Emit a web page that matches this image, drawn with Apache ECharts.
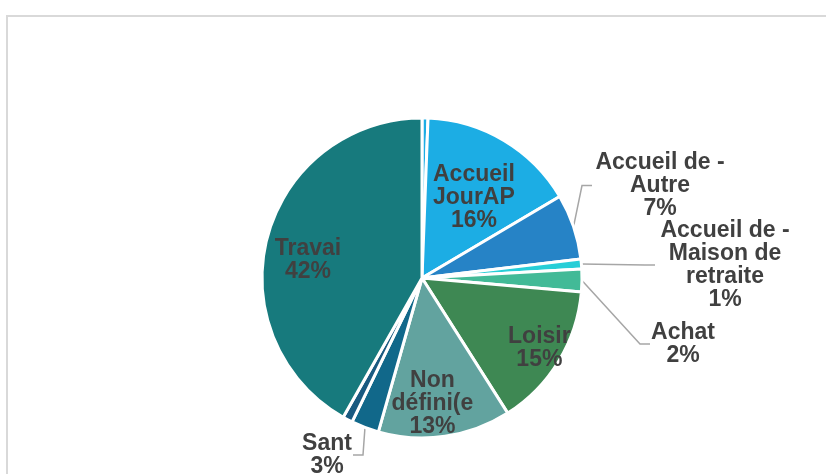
<!DOCTYPE html>
<html>
<head>
<meta charset="utf-8">
<script src="https://cdn.jsdelivr.net/npm/echarts@6/dist/echarts.min.js"></script>
<style>
  html, body { margin: 0; padding: 0; background: #fff; }
  #chart { width: 826px; height: 474px; }
</style>
</head>
<body>
<div id="chart"></div>
<script>
// catégories (dans l'ordre des aiguilles d'une montre, depuis midi)
var categories = ['Accueil de jour', 'Accueil\nJourAP', 'Accueil de -\nAutre', 'Accueil de -\nMaison de\nretraite',
                  'Achat', 'Loisir', 'Non\ndéfini(e', 'Sant', 'Soins', 'Travai'];
// parts (%)
var values = [0.6, 15.9, 6.6, 1.0, 2.3, 14.6, 13.4, 2.8, 1.0, 41.8];
var colors = ['#1cade4', '#1cade4', '#2683c6', '#27ced7', '#42ba97', '#3e8853', '#62a39f', '#11688a', '#1a5a80', '#177a7d'];

// étiquettes dans la part (avec petit décalage) / dehors (position du bloc)
var insideShift = {'Accueil\nJourAP': [-10, 24], 'Loisir': [14, 7], 'Non\ndéfini(e': [-7, 6], 'Travai': [3, 13]};
var outsidePos = {'Accueil de -\nAutre': [592, 151, 'left'], 'Accueil de -\nMaison de\nretraite': [655, 219, 'left'],
                  'Achat': [650, 321, 'left'], 'Sant': [353, 432, 'right']};
var tokenFor = {'Accueil de -\nAutre': 'a', 'Accueil de -\nMaison de\nretraite': 'b', 'Achat': 'c', 'Sant': 'd'};

var FF = 'Liberation Sans, Arial, sans-serif';

function pct(p) { return Math.round(p) + '%'; }

var mainData = categories.map(function (c, i) {
    var out = !!outsidePos[c];
    return {
        name: c, value: values[i],
        itemStyle: { color: colors[i] },
        label: { show: out },
        labelLine: { show: out }
    };
});
var overlayData = categories.map(function (c, i) {
    return { name: c, value: values[i], label: { show: !!insideShift[c] } };
});

var myChart = echarts.init(document.getElementById('chart'), null, { renderer: 'canvas' });

var tok = function (w) {
    return { width: w, align: 'center', fontFamily: FF, fontWeight: 'bold', fontSize: 23, lineHeight: 23, color: '#404040' };
};

var option = {
    animation: false,
    backgroundColor: '#fff',
    graphic: [{
        type: 'rect', silent: true,
        shape: { x: 7, y: 16, width: 840, height: 480 },
        style: { fill: 'none', stroke: '#d9d9d9', lineWidth: 2 }
    }],
    series: [
        {
            type: 'pie',
            center: [422, 278],
            radius: 160,
            startAngle: 90,
            clockwise: true,
            data: mainData,
            itemStyle: { borderColor: '#fff', borderWidth: 3 },
            label: {
                position: 'outside',
                formatter: function (p) {
                    var t = tokenFor[p.name];
                    var lines = p.name.split('\n').concat([pct(p.percent)]);
                    return lines.map(function (l) { return '{' + t + '|' + l + '}'; }).join('\n');
                },
                rich: { a: tok(136), b: tok(140), c: tok(66), d: tok(52) }
            },
            labelLine: {
                length: 16, length2: 10,
                lineStyle: { color: '#a6a6a6', width: 1.5 }
            },
            labelLayout: function (params) {
                var c = categories[params.dataIndex];
                var p = outsidePos[c];
                if (!p) return {};
                return { x: p[0], y: p[1], align: p[2], verticalAlign: 'top' };
            },
            emphasis: { disabled: true }
        },
        {
            // couche transparente : étiquettes internes
            type: 'pie',
            center: [422, 278],
            radius: [76, 160],
            startAngle: 90,
            clockwise: true,
            silent: true,
            data: overlayData,
            itemStyle: { color: 'rgba(0,0,0,0)', borderWidth: 0 },
            label: {
                position: 'inside',
                align: 'center',
                fontFamily: FF, fontWeight: 'bold', fontSize: 23, lineHeight: 23, color: '#404040',
                formatter: function (p) { return p.name + '\n' + pct(p.percent); }
            },
            labelLine: { show: false },
            labelLayout: function (params) {
                var s = insideShift[categories[params.dataIndex]];
                return s ? { dx: s[0], dy: s[1] } : {};
            },
            emphasis: { disabled: true }
        }
    ]
};
myChart.setOption(option);
</script>
</body>
</html>
